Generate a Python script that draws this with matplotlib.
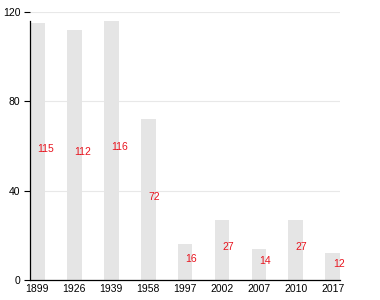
import matplotlib.pyplot as plt

plt.rcParams['font.family'] = ['Liberation Sans', 'DejaVu Sans']

years = ['1899', '1926', '1939', '1958', '1997', '2002', '2007', '2010', '2017']
values = [115, 112, 116, 72, 16, 27, 14, 27, 12]

fig = plt.figure(figsize=(3.8, 3.0), dpi=100)
ax = fig.add_axes([0.079, 0.067, 0.816, 0.893])

x = range(len(years))
ax.bar(x, values, width=0.4, color='#e5e5e5', zorder=2)

# value labels sit at half the bar height, starting at the bar centre
for i, v in enumerate(values):
    ax.text(i, v / 2, str(v), color='#e8141e', fontsize=7.5,
            ha='left', va='baseline', zorder=3)

ax.set_xlim(-0.2, len(years) - 0.8)
ax.set_ylim(0, 120)
ax.set_yticks([0, 40, 80, 120])
ax.set_xticks(list(x))
ax.set_xticklabels(years)
ax.tick_params(axis='x', length=0, pad=3, labelsize=7.5)
ax.tick_params(axis='y', length=4, width=0.8, pad=3, labelsize=7.5)

ax.yaxis.grid(True, color='#e8e8e8', linewidth=0.8, zorder=0)
ax.set_axisbelow(True)

for s in ['top', 'right']:
    ax.spines[s].set_visible(False)
ax.spines['left'].set_bounds(0, max(values))
ax.spines['left'].set_linewidth(0.9)
ax.spines['bottom'].set_linewidth(0.9)

fig.savefig('out.png', dpi=100)
